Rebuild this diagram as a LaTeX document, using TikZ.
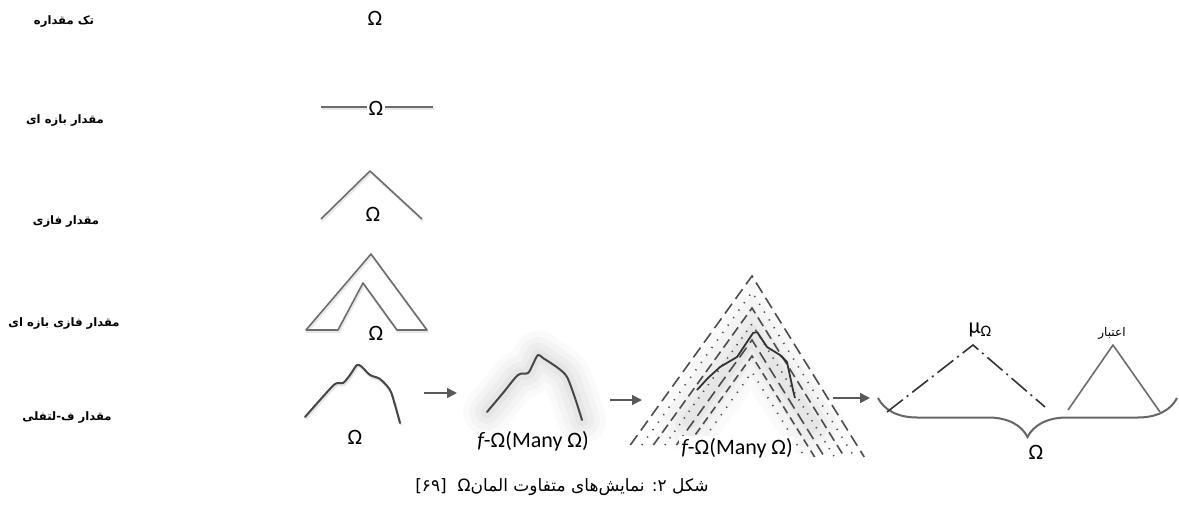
\documentclass[tikz,border=0pt]{standalone}
\usepackage{fontspec}
\setmainfont{Carlito}
\newfontfamily\fa[Script=Arabic]{DejaVu Sans}
\TeXXeTstate=1
\usetikzlibrary{arrows.meta,decorations.pathreplacing}

\tikzset{
  lbl/.style={font=\fa\bfseries\fontsize{5.8}{7}\selectfont, inner sep=0pt},
  om/.style={font=\fontsize{11}{13}\selectfont, inner sep=0pt},
  gline/.style={gray!85!black, line width=0.8pt, line join=round},
  shadowline/.style={gray!18, line width=1pt, line join=round},
  crv/.style={black!72, line width=1pt, line join=round, line cap=round},
  arr/.style={-{Triangle[length=5pt,width=5pt]}, line width=0.8pt, black!65},
}

\newcommand\fcurve[1]{\draw[#1] plot[smooth] coordinates {(487,412) (503,393) (518,375) (528,373) (533,364) (538,355) (543,358) (558,368) (567,377) (575,398) (582,420)};}
\newcommand\fband[1]{\draw[#1] (690,420) -- (752,335) -- (812,425);}

\begin{document}
\begin{tikzpicture}[x=0.5pt,y=-0.5pt]
\useasboundingbox (0,0) rectangle (1179,504);

\node[lbl] (l1) at (64,22) {\beginR تک مقداره\endR};
\node[lbl] (l2) at (65,121) {\beginR مقدار بازه ای\endR};
\node[lbl] (l3) at (66,222) {\beginR مقدار فازی\endR};
\node[lbl] (l4) at (64,324) {\beginR مقدار فازی بازه ای\endR};
\node[lbl] (l5) at (67,418) {\beginR مقدار ف-لتفلی\endR};

\node[om] (o1) at (375,18) {Ω};

\draw[shadowline] (322,109) -- (434,109);
\draw[gline] (321,107) -- (433,107);
\node[om, fill=white, inner sep=1pt] (o2) at (376,108) {Ω};

\draw[shadowline] (322,221) -- (371,173) -- (423,221);
\draw[gline] (321,219) -- (370,171) -- (422,219);
\node[om] (o3) at (373,214) {Ω};

\draw[shadowline] (307,332) -- (372,256) -- (428,332) -- (398,332) -- (364,285) -- (339,332) -- cycle;
\draw[gline] (306,330) -- (371,254) -- (427,330) -- (397,330) -- (363,283) -- (338,330) -- cycle;
\node[om] (o4) at (376,333) {Ω};

\draw[gray!20, line width=1.2pt] plot[smooth] coordinates {(306,419) (321,402) (336,386) (344,385) (351,377) (358,367) (363,369) (371,377) (381,381) (391,392) (396,407) (401,425)};
\draw[crv] plot[smooth] coordinates {(305,417) (320,400) (335,384) (343,383) (350,375) (357,365) (362,367) (370,375) (380,379) (390,390) (395,405) (400,423)};
\node[om] (o5) at (355,437) {Ω};

\coordinate (a1s) at (424,393);
\coordinate (a1e) at (457,393);
\draw[arr] (a1s) -- (a1e);

\foreach \w/\o in {24/0.04, 18/0.05, 12/0.06, 6/0.07}
  {\fcurve{gray, line width=\w pt, opacity=\o, line cap=round, line join=round}}
\fcurve{crv}
\node[om] (f1) at (533,441) {{\itshape f}-Ω(Many Ω)};

\coordinate (a2s) at (610,400);
\coordinate (a2e) at (642,400);
\draw[arr] (a2s) -- (a2e);

\foreach \w/\o in {32/0.04, 24/0.05, 16/0.06, 8/0.07}
  {\fband{gray, line width=\w pt, opacity=\o, line cap=round}}
\foreach \k/\a/\b in {0/6/3, 1/0.6/4, 2/5/2.5, 3/0.6/3.5, 4/6/3, 5/4/2.5, 6/0.6/4}
  \draw[black!70, line width=0.8pt, dash pattern=on \a pt off \b pt]
    ({752-0.72*(445-276-16*\k)},445) -- (752,{276+16*\k}) -- ({752+0.62*(457-276-16*\k)},457);
\draw[black!80, line width=0.9pt, line join=round] (697,390) -- (708,378) -- (720,367) -- (737,357) -- (745,345) -- (753,333) -- (757,332) -- (767,347) -- (780,355) -- (787,362) -- (793,390) -- (795,398);
\node[om, fill=white, inner sep=1pt] (f2) at (737,448) {{\itshape f}-Ω(Many Ω)};

\coordinate (a3s) at (833,398);
\coordinate (a3e) at (870,398);
\draw[arr] (a3s) -- (a3e);

\draw[gray!80!black, line width=1pt, decorate, decoration={brace, mirror, amplitude=19.5pt}] (878,398) -- (1177,398);
\node[om] (o6) at (1036,452) {Ω};

\draw[black!80, line width=0.8pt, dash pattern=on 10pt off 2.5pt on 1pt off 2.5pt] (887,412) -- (973,345) -- (1045,407);
\node[om] (mu) at (980,330) {μ{\fontsize{8}{8}\selectfont\raisebox{-0.4ex}{Ω}}};

\draw[gline] (1068,410) -- (1113,345) -- (1160,412);
\node[font=\fa\fontsize{6}{7}\selectfont, inner sep=0pt] (ea) at (1112,333) {\beginR اعتبار\endR};

\node[font=\fa\fontsize{8.5}{10}\selectfont, inner sep=0pt] (cap) at (562,487)
  {\beginR شکل ۲: نمایش‌های متفاوت المانΩ\ \ \beginL[۶۹]\endL\endR};
\end{tikzpicture}
\end{document}
